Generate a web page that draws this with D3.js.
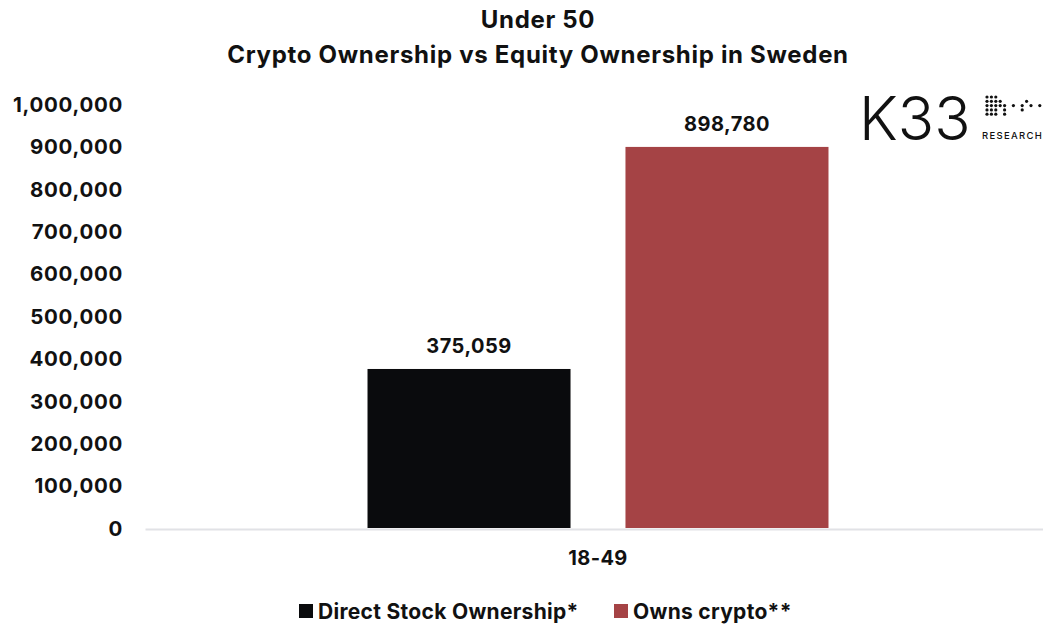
<!DOCTYPE html>
<html><head><meta charset="utf-8">
<script src="https://cdn.jsdelivr.net/npm/d3@7"></script>
<style>body{margin:0;background:#fff}svg{display:block;font-family:Inter,"Noto Sans",sans-serif}</style>
</head><body><svg id="c" width="1043" height="626"></svg>
<script>
const categories = ["18-49"];
const seriesNames = ["Direct Stock Ownership*", "Owns crypto**"];
const seriesValues = [375059, 898780];
const seriesColors = ["#0a0b0d", "#a54345"];
const yTicks = [0,100000,200000,300000,400000,500000,600000,700000,800000,900000,1000000];
const titleLines = ["Under 50", "Crypto Ownership vs Equity Ownership in Sweden"];

const svg = d3.select("#c");
const fmt = d3.format(",");
const y = d3.scaleLinear().domain([0,1000000]).range([528,104]);
const x0 = d3.scaleBand().domain(categories).range([145,1051]).paddingInner(0).paddingOuter(0.4827);
const x1 = d3.scaleBand().domain(seriesNames).range([0,x0.bandwidth()]).paddingInner(0.213);

// title
svg.selectAll("text.title").data(titleLines).join("text").attr("class","title")
  .attr("x",538).attr("y",(d,i)=>28+i*35).attr("text-anchor","middle")
  .attr("font-size",24).attr("font-weight",700).attr("letter-spacing",0.7).attr("fill","#111").text(d=>d);

// y axis
const ya = svg.append("g").attr("transform","translate(123,0)")
  .call(d3.axisLeft(y).tickValues(yTicks).tickFormat(fmt).tickSize(0).tickPadding(0));
ya.select(".domain").remove();
ya.selectAll("text").attr("font-size",20.5).attr("font-weight",700).attr("fill","#111")
  .attr("letter-spacing",0.7)
  .attr("font-family","Inter,'Noto Sans',sans-serif").attr("dy","0.36em");

// bars
const g = svg.append("g");
seriesNames.forEach((s,i)=>{
  const xb = x0(categories[0]) + x1(s);
  g.append("rect").attr("x",xb).attr("y",y(seriesValues[i])).attr("width",x1.bandwidth())
    .attr("height",y(0)-y(seriesValues[i])).attr("fill",seriesColors[i]);
  g.append("text").attr("x",xb+x1.bandwidth()/2).attr("y",y(seriesValues[i])-16)
    .attr("text-anchor","middle").attr("font-size",20).attr("font-weight",700).attr("fill","#111")
    .attr("letter-spacing",0.5).text(fmt(seriesValues[i]));
});

// x axis
const xa = svg.append("g").attr("transform","translate(0,529)")
  .call(d3.axisBottom(x0).tickSize(0).tickPadding(22));
xa.select(".domain").attr("stroke","#e1e2e6").attr("stroke-width",2);
xa.selectAll("text").attr("font-size",20).attr("font-weight",700).attr("fill","#111")
  .attr("letter-spacing",0.4)
  .attr("font-family","Inter,'Noto Sans',sans-serif");

// legend
const legX = [299, 614];
seriesNames.forEach((s,i)=>{
  svg.append("rect").attr("x",legX[i]).attr("y",604).attr("width",14).attr("height",14).attr("fill",seriesColors[i]);
  svg.append("text").attr("x",legX[i]+19).attr("y",619).attr("font-size",21).attr("font-weight",700)
    .attr("letter-spacing",0.3).attr("fill","#111").text(s);
});

// logo
const logo = svg.append("g");
logo.append("text").attr("x",859).attr("y",140).attr("font-size",60).attr("font-weight",300)
  .attr("font-family","Inter,'Liberation Sans',sans-serif").attr("fill","#111").text("K33");
logo.append("text").attr("x",982).attr("y",139).attr("font-size",9.5).attr("letter-spacing",1.3)
  .attr("font-weight",500).attr("fill","#111").text("RESEARCH");
const pattern = [
  "111",
  "1111000001",
  "1111101010101",
  "1110100010",
  "111010"
];
const dots = [];
pattern.forEach((row,r)=>row.split("").forEach((v,c)=>{ if(v==="1") dots.push([987+c*4.4, 97+r*4.3]); }));
logo.selectAll("circle").data(dots).join("circle").attr("cx",d=>d[0]).attr("cy",d=>d[1]).attr("r",1.6).attr("fill","#111");
</script></body></html>
